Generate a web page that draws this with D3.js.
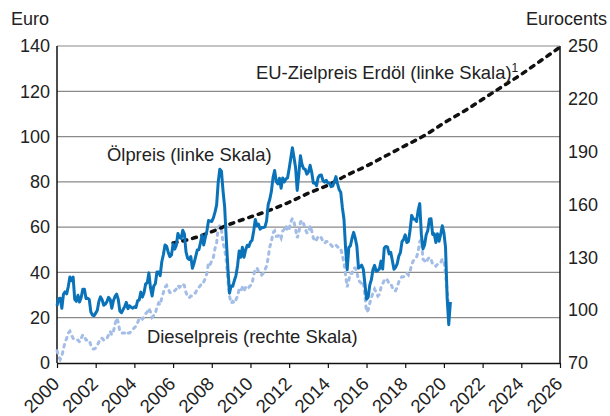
<!DOCTYPE html>
<html>
<head>
<meta charset="utf-8">
<script src="https://cdn.jsdelivr.net/npm/d3@7"></script>
<style>
  body { margin: 0; background: #fff; }
  svg text { font-family: "Liberation Sans", Arial, sans-serif; fill: #222; }
</style>
</head>
<body>
<svg id="chart" width="610" height="416"></svg>
<script>
// chart size and margins
const CHART_WIDTH = 610;
const CHART_HEIGHT = 416;
const MARGIN = { left: 57, right: 50, top: 46, bottom: 53 };

// monthly series, starting January 2000
const START_YEAR = 2000;

// Brent oil price in euro per barrel (left scale)
const oilEuro = [
  25.2, 28.4, 28.6, 24.2, 30.3, 31.4, 30.5, 33.8, 38.0, 36.4, 37.9, 28.1,
  27.2, 29.9, 26.9, 28.9, 32.6, 32.6, 28.5, 28.6, 28.1, 22.5, 21.2, 20.9,
  22.0, 23.3, 27.3, 29.2, 27.9, 25.5, 26.0, 27.2, 29.0, 28.1, 24.2, 27.5,
  29.4, 30.4, 28.1, 22.9, 22.2, 23.6, 24.9, 26.8, 24.0, 25.3, 24.6, 24.2,
  24.8, 24.5, 27.5, 27.8, 31.3, 29.1, 31.1, 35.0, 35.4, 39.8, 33.2, 29.6,
  34.0, 35.0, 40.2, 40.2, 38.6, 44.7, 47.9, 52.1, 51.6, 48.8, 47.0, 47.7,
  52.6, 50.3, 51.9, 57.2, 55.4, 55.0, 58.6, 57.0, 49.2, 46.3, 45.7, 47.0,
  41.8, 44.1, 47.0, 49.9, 50.0, 53.2, 56.4, 52.1, 55.5, 58.4, 62.9, 62.7,
  62.5, 64.1, 66.6, 69.7, 79.9, 85.6, 84.7, 75.9, 68.8, 54.7, 41.9, 30.8,
  34.0, 33.9, 36.4, 38.6, 43.0, 49.5, 46.7, 51.1, 46.7, 49.9, 52.0, 51.4,
  53.4, 54.2, 58.3, 63.4, 60.6, 61.3, 59.1, 59.8, 59.8, 60.1, 62.8, 70.0,
  72.3, 75.9, 81.9, 85.0, 80.1, 79.1, 81.6, 77.2, 81.7, 80.0, 81.3, 81.7,
  85.8, 90.4, 95.1, 90.8, 86.2, 76.2, 83.4, 91.5, 87.6, 85.8, 85.5, 83.4,
  84.4, 87.3, 84.2, 79.5, 79.5, 78.3, 82.0, 82.9, 83.0, 80.5, 79.9, 80.7,
  79.5, 79.5, 77.9, 78.1, 80.1, 82.3, 79.2, 76.6, 75.4, 68.7, 63.5, 50.7,
  41.2, 51.0, 51.8, 55.1, 57.7, 55.1, 51.6, 41.9, 42.5, 43.2, 41.4, 34.9,
  28.2, 29.0, 34.4, 36.8, 41.3, 43.1, 40.5, 40.9, 41.6, 45.0, 41.5, 50.8,
  51.5, 51.3, 48.2, 48.9, 45.3, 41.4, 42.2, 43.8, 47.2, 48.7, 53.6, 54.6,
  56.6, 53.2, 53.7, 58.6, 65.2, 63.6, 63.5, 62.5, 67.4, 70.4, 56.8, 50.4,
  52.1, 56.6, 58.5, 63.6, 63.7, 56.8, 57.1, 53.2, 57.1, 53.8, 56.9, 60.6,
  57.4, 51.1, 28.8, 16.9, 27.0
];

// diesel price in eurocents per litre (right scale)
const dieselCent = [
  77, 74, 72, 74, 78, 82, 84, 87, 88, 86, 84, 83,
  83, 83, 82, 84, 86, 85, 83, 83, 83, 80, 78, 78,
  78.5, 80, 82, 84, 84, 83, 83, 84, 86, 88, 86, 88,
  92, 95.5, 93, 88, 87, 87, 87, 88, 87, 87, 88, 89,
  90, 91, 93, 95, 96, 95, 96, 98, 99, 101, 99, 96,
  97, 98, 102, 104, 103, 107, 110, 113, 114, 112, 110, 110,
  111, 111, 112, 114, 113, 114, 115, 114, 110, 108, 107, 108,
  108, 109, 110, 112, 113, 114, 116, 116, 118, 121, 127, 126,
  128, 130, 135, 138, 147, 148, 146, 138, 135, 128, 117, 108,
  104, 105, 104, 106, 108, 112, 111, 113, 111, 113, 114, 113,
  114, 115, 120, 123, 124, 122, 121, 120, 121, 123, 125, 130,
  136, 139, 144, 145, 142, 142, 143, 141, 145, 146, 148, 145,
  146, 150, 152, 150, 146, 141, 144, 150, 151, 149, 146, 144,
  144, 148, 145, 141, 139, 140, 142, 142, 141, 139, 138, 139,
  139, 138, 137, 136, 137, 137, 136, 135, 135, 131, 127, 120,
  113, 117, 121, 121, 124, 124, 122, 117, 116, 115, 116, 108,
  99, 100, 104, 107, 110, 112, 110, 108, 109, 113, 115, 117,
  118, 117, 115, 115, 113, 111, 111, 113, 116, 118, 119, 119,
  120, 121, 120, 122, 126, 128, 129, 130, 133, 139, 140, 129,
  128, 127, 129, 130, 129, 126, 126, 125, 126, 126, 127, 129,
  128, 120, 111, 102, 104
];

// EU target oil price in euro (left scale), yearly
const targetYears = [2006, 2007, 2008, 2009, 2010, 2011, 2012, 2013, 2014, 2015, 2016,
  2017, 2018, 2019, 2020, 2021, 2022, 2023, 2024, 2025, 2026];
const targetEuro = [53, 55, 58, 61.5, 64.5, 67.5, 71, 75, 78.5, 83, 87,
  91.5, 96, 100.5, 106, 111, 116.5, 122, 127.5, 133.5, 139.5];

const leftTicks = [0, 20, 40, 60, 80, 100, 120, 140];
const rightTicks = [70, 100, 130, 160, 190, 220, 250];
const yearTicks = d3.range(2000, 2027, 2);

draw();

function draw () {
  const svg = d3.select("#chart");
  const x0 = MARGIN.left, x1 = CHART_WIDTH - MARGIN.right;
  const y0 = CHART_HEIGHT - MARGIN.bottom, y1 = MARGIN.top;

  const xScale = d3.scaleLinear().domain([2000, 2026]).range([x0, x1]);
  const yLeft = d3.scaleLinear().domain([0, 140]).range([y0, y1]);
  const yRight = d3.scaleLinear().domain([70, 250]).range([y0, y1]);

  // grid lines
  svg.append("g").selectAll("line")
    .data(leftTicks.slice(1))
    .join("line")
    .attr("x1", x0).attr("x2", x1)
    .attr("y1", d => yLeft(d)).attr("y2", d => yLeft(d))
    .attr("stroke", "#8a8a8a").attr("stroke-width", 1.2);

  // left axis labels
  const leftAxis = svg.append("g")
    .attr("transform", `translate(${x0},0)`)
    .call(d3.axisLeft(yLeft).tickValues(leftTicks).tickSize(0).tickPadding(7));
  leftAxis.select(".domain").remove();
  leftAxis.selectAll("text").style("font-size", "18px").style("font-family", null);

  // right axis labels
  const rightAxis = svg.append("g")
    .attr("transform", `translate(${x1},0)`)
    .call(d3.axisRight(yRight).tickValues(rightTicks).tickSize(0).tickPadding(8));
  rightAxis.select(".domain").remove();
  rightAxis.selectAll("text").style("font-size", "18px").style("font-family", null);

  // axis frame
  svg.append("line").attr("x1", x0).attr("x2", x0).attr("y1", y1).attr("y2", y0)
    .attr("stroke", "#111").attr("stroke-width", 1.5);
  svg.append("line").attr("x1", x1).attr("x2", x1).attr("y1", y1).attr("y2", y0)
    .attr("stroke", "#111").attr("stroke-width", 1.5);

  // bottom axis
  const bottomAxis = svg.append("g")
    .attr("transform", `translate(0,${y0})`)
    .call(d3.axisBottom(xScale).tickValues(yearTicks).tickFormat(d3.format("d")).tickSize(5).tickSizeOuter(0));
  bottomAxis.select(".domain").attr("stroke", "#111").attr("stroke-width", 1.5);
  bottomAxis.selectAll(".tick line").attr("stroke", "#111").attr("stroke-width", 1.2);
  bottomAxis.selectAll("text")
    .style("font-size", "18.5px").style("font-family", null)
    .attr("text-anchor", "end")
    .attr("dy", null).attr("y", 0)
    .attr("transform", "translate(3,22) rotate(-45)");

  // diesel line (right scale)
  const dieselLine = d3.line()
    .x((d, i) => xScale(START_YEAR + i / 12))
    .y(d => yRight(d));
  svg.append("path")
    .datum(dieselCent)
    .attr("d", dieselLine)
    .attr("fill", "none")
    .attr("stroke", "#a3bde6")
    .attr("stroke-width", 3)
    .attr("stroke-linecap", "round")
    .attr("stroke-dasharray", "2.5,5");

  // EU target price
  const targetLine = d3.line()
    .x((d, i) => xScale(targetYears[i]))
    .y(d => yLeft(d))
    .curve(d3.curveMonotoneX);
  svg.append("path")
    .datum(targetEuro)
    .attr("d", targetLine)
    .attr("fill", "none")
    .attr("stroke", "#111")
    .attr("stroke-width", 3.5)
    .attr("stroke-linecap", "round")
    .attr("stroke-dasharray", "4,6");

  // oil price
  const oilLine = d3.line()
    .x((d, i) => xScale(START_YEAR + i / 12))
    .y(d => yLeft(d));
  svg.append("path")
    .datum(oilEuro)
    .attr("d", oilLine)
    .attr("fill", "none")
    .attr("stroke", "#0a72b8")
    .attr("stroke-width", 3)
    .attr("stroke-linejoin", "round");

  // unit labels
  svg.append("text").attr("x", 11).attr("y", 25).style("font-size", "18px").text("Euro");
  svg.append("text").attr("x", 607).attr("y", 25).attr("text-anchor", "end")
    .style("font-size", "18px").text("Eurocents");

  // series labels
  svg.append("text").attr("x", 107).attr("y", 161).style("font-size", "18.4px")
    .text("Ölpreis (linke Skala)");
  svg.append("text").attr("x", 147).attr("y", 343).style("font-size", "18.4px")
    .text("Dieselpreis (rechte Skala)");
  const eu = svg.append("text").attr("x", 256).attr("y", 79).style("font-size", "18.4px");
  eu.append("tspan").text("EU-Zielpreis Erdöl (linke Skala)");
  eu.append("tspan").attr("dy", -7).style("font-size", "12px").text("1");
}
</script>
</body>
</html>
